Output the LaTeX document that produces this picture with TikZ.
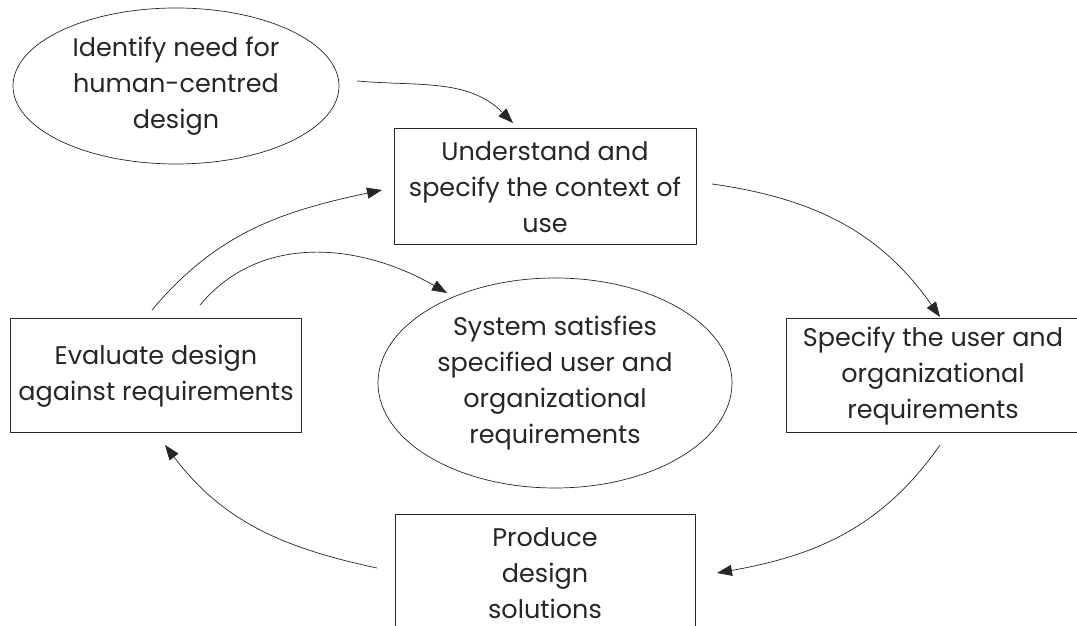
\documentclass[tikz,border=0pt]{standalone}
\usepackage{fontspec}
\setmainfont{Poppins}
\usetikzlibrary{arrows.meta,shapes.geometric}
\tikzset{
	hcd cycle/.style={
		x=1pt, y=1pt,
		font=\fontsize{25.5}{36}\selectfont,
		text=black!85,
		ar/.style={draw=black!85, line width=.7pt, -{Triangle[length=15pt,width=11pt]}}
		},
	stage/.style={draw=black!85, line width=1pt, rectangle, align=center, inner sep=0pt},
	goal/.style={draw=black!85, line width=.7pt, ellipse, align=center, inner sep=0pt}
}

\begin{document}
\begin{tikzpicture}[hcd cycle]
	\useasboundingbox (0,0) rectangle (1077,626);
	\node[goal, minimum width=326pt, minimum height=156pt] (ident) at (176,540) {Identify need for\\human-centred\\design};
	\node[stage, minimum width=302pt, minimum height=116pt] (underst) at (545,439) {Understand and\\specify the context of\\use};
	\node[stage, minimum width=293pt, minimum height=114pt] (spec) at (933,250) {Specify the user and\\organizational\\requirements};
	\node[stage, minimum width=300pt, minimum height=116pt] (produce) at (545,53) {Produce\\design\\solutions};
	\node[stage, minimum width=291pt, minimum height=114pt] (eval) at (156,250) {Evaluate design\\against requirements};
	\node[goal, minimum width=354pt, minimum height=210pt] (sys) at (555,243) {System satisfies\\specified user and\\organizational\\requirements};
	% free ends of the arrows
	\coordinate (ident_out) at (357,545);
	\coordinate (underst_in) at (513,503);
	\coordinate (underst_out) at (712,442);
	\coordinate (spec_in) at (940,309);
	\coordinate (spec_out) at (940,181);
	\coordinate (produce_in) at (717,53);
	\coordinate (produce_out) at (377,58);
	\coordinate (eval_in) at (165,181);
	\coordinate (eval_out1) at (152,316);
	\coordinate (eval_out2) at (200,321);
	\coordinate (underst_in2) at (382,436);
	\coordinate (sys_in) at (447,333);
	\draw[ar] (ident_out) to[out=-5,in=135] (underst_in);
	\draw[ar] (underst_out) to[out=-8,in=125] (spec_in);
	\draw[ar] (spec_out) to[out=-125,in=10] (produce_in);
	\draw[ar] (produce_out) to[out=168,in=-53] (eval_in);
	\draw[ar] (eval_out1) to[out=50,in=192] (underst_in2);
	\draw[ar] (eval_out2) to[out=50,in=150] (sys_in);
\end{tikzpicture}
\end{document}
